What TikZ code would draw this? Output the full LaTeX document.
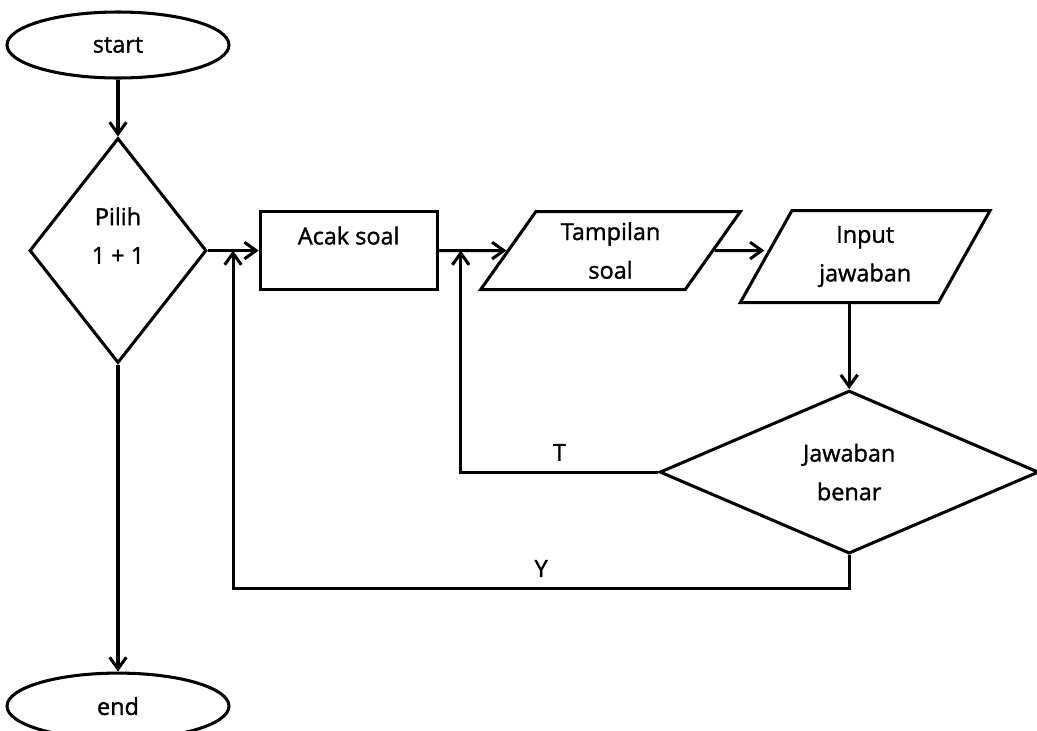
\documentclass[tikz,border=0pt]{standalone}
\usepackage{fontspec}
\setmainfont{Open Sans}[FakeBold=1.4]
\usetikzlibrary{shapes.geometric, arrows.meta, positioning, calc}

\begin{document}
\begin{tikzpicture}[
        >={Straight Barb[length=3.5mm, width=5mm]},
        line width=2.6pt,
        font=\fontsize{20}{33}\selectfont,
        % bentuk dasar flowchart
        terminal/.style={draw, ellipse, minimum width=6.66cm, minimum height=1.98cm, inner sep=0pt},
        decision/.style={draw, diamond, inner sep=0pt, align=center},
        process/.style={draw, rectangle, minimum width=5.31cm, minimum height=2.34cm, align=center},
        io/.style={draw, trapezium, trapezium stretches=true, trapezium left angle=57, trapezium right angle=123, inner sep=0pt, minimum height=2.34cm, align=center},
        flow/.style={->},
        branch/.style={above=5pt, pos=0.25}
    ]
        \useasboundingbox (-3.54,1.35) rectangle (27.57,-20.55);

        % Kolom kiri
        \node[terminal] (start) at (0,0) {start};
        \node[decision, below=1.71cm of start, minimum width=5.31cm, minimum height=6.75cm, text depth=0.9cm] (pilih) {Pilih\\1 + 1};
        \node[terminal, below=9.21cm of pilih] (end) {end};

        % Baris soal
        \node[process, right=1.52cm of pilih, text depth=0.9cm] (acak) {Acak soal};
        \node[io, right=2.03cm of acak, minimum width=7.8cm] (tampil) {Tampilan\\soal};
        \node[io, right=1.49cm of tampil, yshift=-0.18cm, minimum width=7.5cm, minimum height=2.76cm, trapezium left angle=62, trapezium right angle=118] (input) {Input\\jawaban};
        \node[decision, below=2.55cm of input, xshift=-0.48cm, minimum width=11.37cm, minimum height=4.89cm] (benar) {Jawaban\\benar};

        % Alur utama
        \draw[flow] (start) -- (pilih);
        \draw[flow] (pilih) -- (end);
        \draw[flow] (pilih) -- (acak);
        \draw[flow] (acak) -- (tampil);
        \draw[flow] (tampil) -- (input.west |- tampil.east);
        \draw[flow] (benar.north |- input.south) -- (benar);

        % Cabang T dan Y
        \draw[flow] (benar.west) -| ([xshift=0.66cm]acak.east) node[branch] {T};
        \coordinate (ybend) at ([yshift=-0.99cm]benar.south);
        \draw[flow] (benar.south) -- (ybend) -| ([xshift=0.75cm]pilih.east) node[branch] {Y};
    \end{tikzpicture}
\end{document}
